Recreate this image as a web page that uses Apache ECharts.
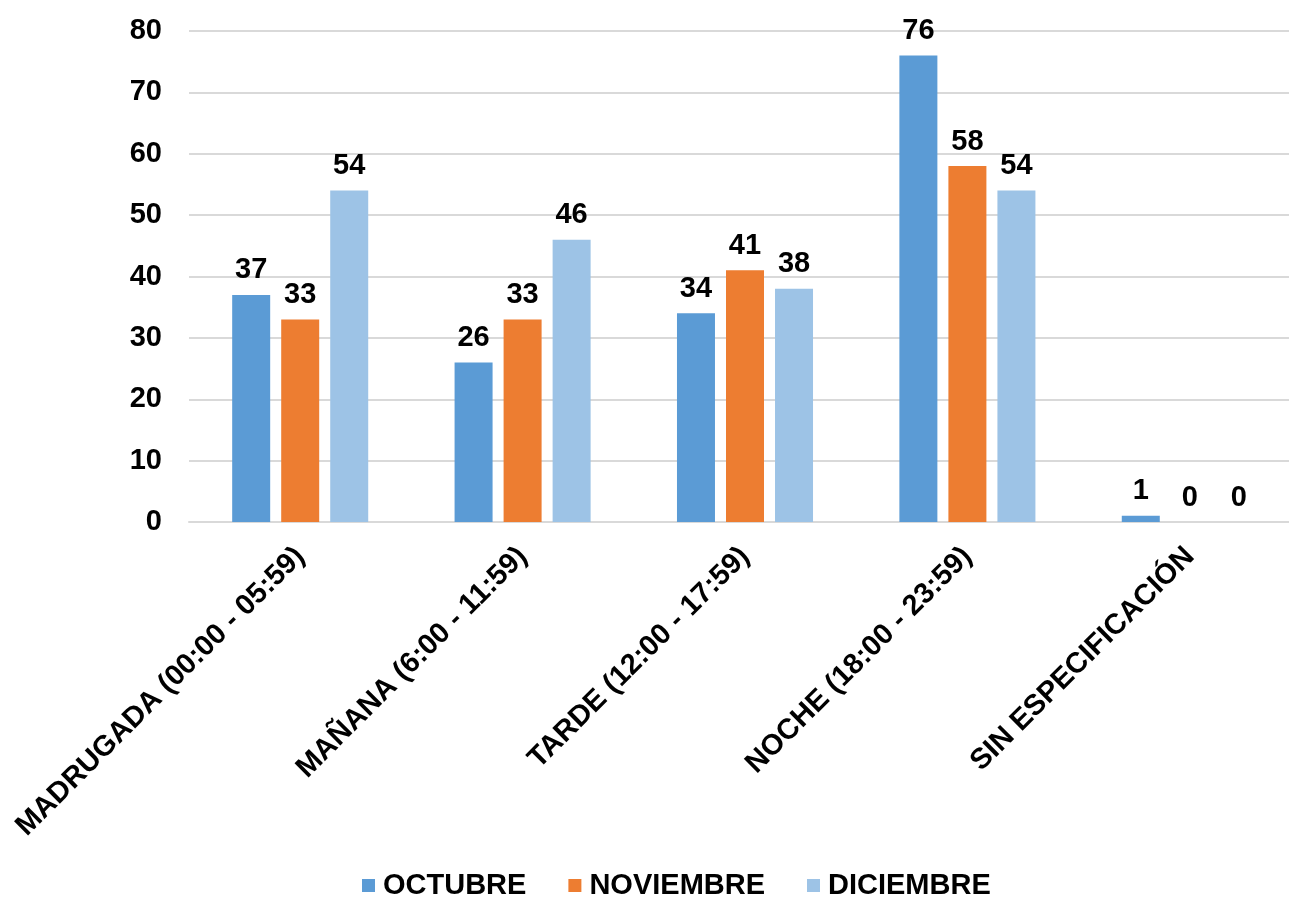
<!DOCTYPE html>
<html><head><meta charset="utf-8">
<script src="https://cdn.jsdelivr.net/npm/echarts@6/dist/echarts.min.js"></script>
<style>html,body{margin:0;padding:0;background:#fff;overflow:hidden;width:1289px;height:900px}#c{width:1301px;height:900px}</style>
</head><body><div id="c"></div>
<script>
const categories = ['MADRUGADA (00:00 - 05:59)', 'MAÑANA (6:00 - 11:59)', 'TARDE (12:00 - 17:59)', 'NOCHE (18:00 - 23:59)', 'SIN ESPECIFICACIÓN'];
const seriesNames = ['OCTUBRE', 'NOVIEMBRE', 'DICIEMBRE'];
const octubre = [37, 26, 34, 76, 1];
const noviembre = [33, 33, 41, 58, 0];
const diciembre = [54, 46, 38, 54, 0];
const colors = ['#5B9BD5', '#ED7D31', '#9DC3E6'];
const font = 'Liberation Sans, Arial, sans-serif';
const FS = 29;
const chart = echarts.init(document.getElementById('c'));
const mk = (name, data, color) => ({
  name, type: 'bar', data, barWidth: 38, barGap: '29%',
  itemStyle: { color },
  label: { show: true, position: 'top', distance: 10, color: '#000', fontSize: FS, fontWeight: 'bold', fontFamily: font }
});
chart.setOption({
  animation: false,
  color: colors,
  grid: { left: 189, top: 31, right: 0, bottom: 378, containLabel: false },
  legend: {
    top: 871, left: 362, padding: 0, itemWidth: 13, itemHeight: 13, itemGap: 42,
    icon: 'rect',
    textStyle: { color: '#000', fontSize: FS, fontWeight: 'bold', fontFamily: font, padding: [0, 0, 0, 3] },
    data: seriesNames
  },
  xAxis: {
    type: 'category', data: categories,
    axisLine: { lineStyle: { color: '#d9d9d9', width: 2 } },
    axisTick: { show: false },
    axisLabel: { rotate: 45, interval: 0, margin: 30, color: '#000', fontSize: FS, fontWeight: 'bold', fontFamily: font }
  },
  yAxis: {
    type: 'value', min: 0, max: 80, interval: 10,
    axisLine: { show: false }, axisTick: { show: false },
    splitLine: { lineStyle: { color: '#d9d9d9', width: 2 } },
    axisLabel: { margin: 27, color: '#000', fontSize: FS, fontWeight: 'bold', fontFamily: font }
  },
  series: [mk(seriesNames[0], octubre, colors[0]), mk(seriesNames[1], noviembre, colors[1]), mk(seriesNames[2], diciembre, colors[2])]
});
</script></body></html>
